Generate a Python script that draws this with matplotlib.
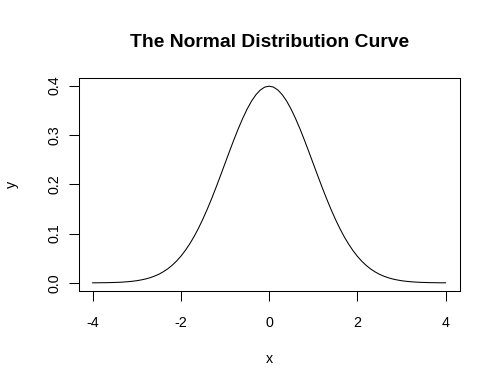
import matplotlib
matplotlib.use("Agg")
from matplotlib import pyplot as plt

# values, step 0.1 on x
xs = [-4.0, -3.9, -3.8, -3.7, -3.6, -3.5, -3.4, -3.3, -3.2, -3.1,
      -3.0, -2.9, -2.8, -2.7, -2.6, -2.5, -2.4, -2.3, -2.2, -2.1,
      -2.0, -1.9, -1.8, -1.7, -1.6, -1.5, -1.4, -1.3, -1.2, -1.1,
      -1.0, -0.9, -0.8, -0.7, -0.6, -0.5, -0.4, -0.3, -0.2, -0.1,
      0.0, 0.1, 0.2, 0.3, 0.4, 0.5, 0.6, 0.7, 0.8, 0.9,
      1.0, 1.1, 1.2, 1.3, 1.4, 1.5, 1.6, 1.7, 1.8, 1.9,
      2.0, 2.1, 2.2, 2.3, 2.4, 2.5, 2.6, 2.7, 2.8, 2.9,
      3.0, 3.1, 3.2, 3.3, 3.4, 3.5, 3.6, 3.7, 3.8, 3.9, 4.0]
ys = [0.0001, 0.0002, 0.0003, 0.0004, 0.0006, 0.0009, 0.0012, 0.0017, 0.0024, 0.0033,
      0.0044, 0.0060, 0.0079, 0.0104, 0.0136, 0.0175, 0.0224, 0.0283, 0.0355, 0.0440,
      0.0540, 0.0656, 0.0790, 0.0940, 0.1109, 0.1295, 0.1497, 0.1714, 0.1942, 0.2179,
      0.2420, 0.2661, 0.2897, 0.3123, 0.3332, 0.3521, 0.3683, 0.3814, 0.3910, 0.3970,
      0.3989, 0.3970, 0.3910, 0.3814, 0.3683, 0.3521, 0.3332, 0.3123, 0.2897, 0.2661,
      0.2420, 0.2179, 0.1942, 0.1714, 0.1497, 0.1295, 0.1109, 0.0940, 0.0790, 0.0656,
      0.0540, 0.0440, 0.0355, 0.0283, 0.0224, 0.0175, 0.0136, 0.0104, 0.0079, 0.0060,
      0.0044, 0.0033, 0.0024, 0.0017, 0.0012, 0.0009, 0.0006, 0.0004, 0.0003, 0.0002, 0.0001]
xticks = [-4, -2, 0, 2, 4]
yticks = [0.0, 0.1, 0.2, 0.3, 0.4]

plt.rcParams['font.family'] = ['Liberation Sans', 'DejaVu Sans']

W, H = 500, 389
fig = plt.figure(figsize=(W / 100, H / 100), dpi=100)
left, right, top, bottom = 78.5, 459.7, 78.3, 290.7
ax = fig.add_axes([left / W, 1 - bottom / H, (right - left) / W, (bottom - top) / H])

ax.plot(xs, ys, color='black', linewidth=0.75)

# R style 4% padding around data range
xr = max(xs) - min(xs)
yr = max(ys) - min(ys)
ax.set_xlim(min(xs) - 0.04 * xr, max(xs) + 0.04 * xr)
ax.set_ylim(min(ys) - 0.04 * yr, max(ys) + 0.04 * yr)

ax.set_xticks(xticks)
ax.set_xticklabels([str(t) for t in xticks])
ax.set_yticks(yticks)
ax.set_yticklabels(["%.1f" % t for t in yticks], rotation=90, va='center')

for s in ax.spines.values():
    s.set_linewidth(0.75)
ax.tick_params(direction='out', length=7.2, width=0.75, labelsize=10.3)
ax.tick_params(axis='x', pad=10.7)
ax.tick_params(axis='y', pad=5)

# axis labels and title placed by baseline, like R's mtext lines
fig.text(0.5 * (left + right) / W, 1 - 363.3 / H, "x", ha='center', va='baseline',
         fontsize=10.3)
fig.text(16 / W, 1 - 0.5 * (top + bottom) / H, "y", ha='center', va='baseline',
         rotation=90, rotation_mode='anchor', fontsize=10.3)
fig.text(0.5 * (left + right) / W, 1 - 47 / H, "The Normal Distribution Curve",
         ha='center', va='baseline', fontsize=13.9, fontweight='bold')

fig.savefig("out.png", dpi=100)
